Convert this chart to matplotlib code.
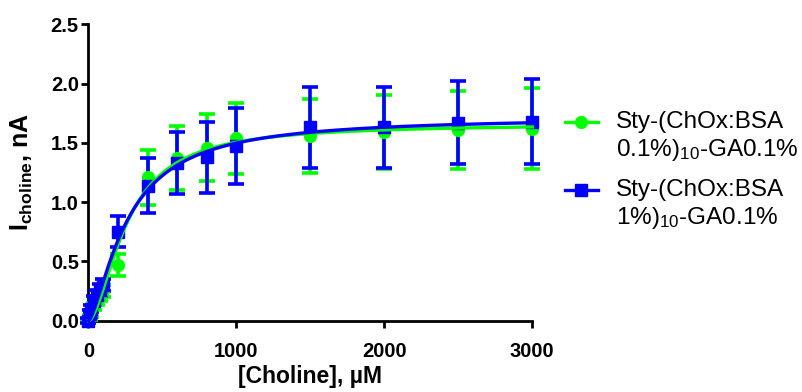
import numpy as np
import matplotlib
matplotlib.use("Agg")
import matplotlib.pyplot as plt
from matplotlib.lines import Line2D

plt.rcParams['font.family'] = ['Liberation Sans', 'DejaVu Sans']
plt.rcParams['mathtext.fontset'] = 'custom'
plt.rcParams['mathtext.rm'] = 'Liberation Sans'
plt.rcParams['mathtext.it'] = 'Liberation Sans:italic'
plt.rcParams['mathtext.bf'] = 'Liberation Sans:bold'

# Choline concentrations (µM)
conc = [0, 10, 20, 40, 60, 80, 100, 200, 400, 600, 800, 1000, 1500, 2000, 2500, 3000]

# Sty-(ChOx:BSA 0.1%)10-GA0.1%
green_mean = [0.00, 0.03, 0.06, 0.12, 0.17, 0.21, 0.25, 0.47, 1.21, 1.37, 1.46, 1.54, 1.56, 1.59, 1.61, 1.62]
green_err = [0.01, 0.02, 0.03, 0.03, 0.04, 0.04, 0.05, 0.09, 0.23, 0.27, 0.28, 0.30, 0.31, 0.31, 0.33, 0.34]

# Sty-(ChOx:BSA 1%)10-GA0.1%
blue_mean = [0.00, 0.06, 0.10, 0.17, 0.22, 0.26, 0.30, 0.75, 1.14, 1.33, 1.38, 1.47, 1.63, 1.63, 1.67, 1.68]
blue_err = [0.02, 0.03, 0.03, 0.04, 0.04, 0.05, 0.05, 0.13, 0.23, 0.26, 0.30, 0.32, 0.34, 0.34, 0.35, 0.36]

# Hill fit parameters: Vmax (nA), K (µM), n
green_fit = (1.66, 262.0, 1.70)
blue_fit = (1.72, 268.0, 1.45)

legend_lines = [("Sty-(ChOx:BSA", "0.1%)$_{10}$-GA0.1%"),
                ("Sty-(ChOx:BSA", "1%)$_{10}$-GA0.1%")]
GREEN = '#00ff00'
BLUE = '#0000ff'


def hill(x, vmax, k, n):
    return vmax * x ** n / (k ** n + x ** n)


W, H = 803, 392
fig = plt.figure(figsize=(W / 100, H / 100), dpi=100)
ax = fig.add_axes([88.5 / W, 1 - 320.7 / H, (532.3 - 88.5) / W, (320.7 - 24.3) / H])

xs = np.linspace(0, 3000, 600)
series = [(green_mean, green_err, green_fit, GREEN, 'o', 8.5),
          (blue_mean, blue_err, blue_fit, BLUE, 's', 8.5)]
for mean, err, fit, color, marker, ms in series:
    ax.errorbar(conc, mean, yerr=err, fmt='none', ecolor=color, elinewidth=2.6,
                capsize=5.5, capthick=2.6, clip_on=False, zorder=3)
    ax.plot(conc, mean, linestyle='none', marker=marker, ms=ms, color=color,
            clip_on=False, zorder=4)
    ax.plot(xs, hill(xs, *fit), color=color, lw=2.4, zorder=5, clip_on=False)

ax.set_xlim(0, 3000)
ax.set_ylim(0, 2.5)
ax.set_xticks([0, 1000, 2000, 3000])
ax.set_yticks([0.0, 0.5, 1.0, 1.5, 2.0, 2.5])
ax.set_yticklabels(['0.0', '0.5', '1.0', '1.5', '2.0', '2.5'])
for s in ['top', 'right']:
    ax.spines[s].set_visible(False)
for s in ['left', 'bottom']:
    ax.spines[s].set_linewidth(2.0)
ax.tick_params(axis='both', which='major', direction='out', length=5, width=2.0,
               labelsize=14.5)
ax.tick_params(axis='x', pad=10)
ax.tick_params(axis='y', pad=2)
for lab in ax.get_xticklabels() + ax.get_yticklabels():
    lab.set_fontweight('bold')

ax.set_xlabel('[Choline], µM', fontsize=16.5, fontweight='bold', labelpad=3)
ax.set_ylabel(r'I$_{\mathbf{choline}}$, nA', fontsize=18, fontweight='bold', labelpad=11)

# Legend: handle aligned with the first text line of each two-line entry
for (line1, line2), (_, _, _, color, marker, ms), y0 in zip(
        legend_lines, series, [122, 190]):
    fig.add_artist(Line2D([565 / W, 598 / W], [1 - y0 / H, 1 - y0 / H],
                          color=color, lw=2.4, transform=fig.transFigure))
    fig.add_artist(Line2D([581.5 / W], [1 - y0 / H], color=color, marker=marker,
                          ms=ms, linestyle='none', transform=fig.transFigure))
    fig.text(616 / W, 1 - y0 / H, line1, fontsize=17.5, va='center', ha='left')
    fig.text(616 / W, 1 - (y0 + 28) / H, line2, fontsize=17.5, va='center', ha='left')

fig.savefig('out.png', dpi=100)
